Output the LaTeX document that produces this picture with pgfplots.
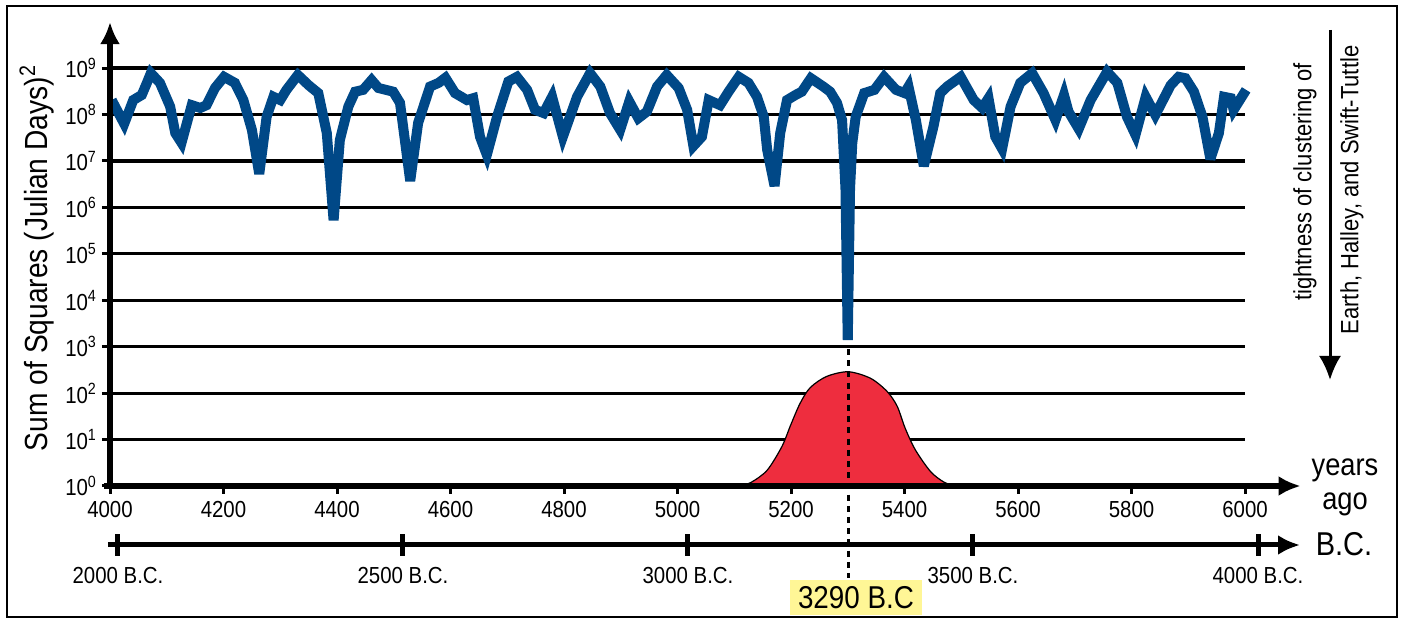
\documentclass[border=0pt]{standalone}
\usepackage{fontspec}
\setmainfont{Liberation Sans}[FakeStretch=0.88]
\usepackage{pgfplots}
\pgfplotsset{compat=1.18}
\usepackage{pgfplotstable}
\usetikzlibrary{arrows.meta}
\definecolor{curveblue}{RGB}{0,72,135}
\definecolor{bellred}{RGB}{238,45,62}
\definecolor{hiyellow}{RGB}{255,246,150}

% log10 of the sum of squares (Julian days^2) against years ago
\pgfplotstableread{
yr lg
4003 8.31
4025 7.80
4041 8.31
4056 8.42
4065 8.68
4072 8.89
4088 8.68
4106 8.17
4115 7.60
4126 7.39
4144 8.20
4159 8.14
4170 8.20
4185 8.57
4201 8.81
4220 8.68
4235 8.31
4250 7.67
4263 6.72
4276 7.95
4288 8.38
4300 8.31
4311 8.53
4331 8.85
4350 8.63
4367 8.46
4382 7.60
4394 5.72
4405 7.45
4420 8.17
4432 8.49
4446 8.53
4461 8.74
4473 8.57
4499 8.49
4511 8.25
4529 6.57
4543 7.82
4564 8.60
4579 8.68
4591 8.79
4608 8.46
4629 8.31
4640 8.35
4652 7.52
4664 7.13
4682 7.95
4702 8.71
4717 8.81
4735 8.53
4749 8.10
4764 8.03
4779 8.38
4798 7.52
4823 8.38
4846 8.89
4864 8.60
4881 8.03
4899 7.67
4915 8.28
4931 7.92
4946 8.06
4964 8.60
4981 8.85
5002 8.57
5017 8.10
5028 7.32
5043 7.52
5055 8.31
5075 8.20
5090 8.49
5108 8.81
5125 8.68
5140 8.38
5152 7.95
5158 7.24
5171 6.46
5181 7.60
5193 8.31
5208 8.42
5219 8.49
5235 8.78
5257 8.60
5269 8.49
5281 8.25
5290 7.88
5296 6.40
5300 3.14
5304 6.40
5308 7.39
5314 7.95
5329 8.46
5347 8.53
5364 8.81
5385 8.53
5400 8.46
5407 8.60
5420 7.88
5434 6.89
5451 7.74
5463 8.46
5475 8.60
5499 8.81
5522 8.31
5537 8.14
5548 8.35
5560 7.52
5572 7.26
5587 8.17
5604 8.68
5625 8.89
5645 8.46
5666 7.88
5681 8.42
5689 8.06
5707 7.69
5728 8.31
5757 8.92
5775 8.68
5792 7.95
5807 7.56
5825 8.38
5842 7.99
5869 8.63
5883 8.81
5895 8.78
5910 8.49
5925 7.95
5939 7.04
5954 7.60
5963 8.38
5975 8.35
5980 8.10
6002 8.53
}\clustering

% probability bump centred on 3290 B.C.
\pgfplotstableread{
yr lg
5110 0.00
5130 0.08
5158 0.34
5184 0.85
5199 1.30
5216 1.78
5234 2.12
5263 2.36
5301 2.46
5340 2.32
5369 2.04
5387 1.72
5401 1.25
5419 0.78
5446 0.31
5470 0.08
5490 0.00
}\bell

\begin{document}
\begin{tikzpicture}[x=1pt,y=1pt]
\useasboundingbox (-55,-67) rectangle (646.5,243);
\begin{axis}[
  at={(0,0)}, anchor=south west,
  scale only axis, width=567.5pt, height=209pt,
  xmin=4000, xmax=6000, ymin=0, ymax=9,
  axis x line*=bottom, axis y line*=left,
  axis line style={draw=none},
  xtick={4000,4200,...,6000}, ytick={0,1,...,9},
  tick align=outside, major tick length=4pt,
  every tick/.style={black, line width=1.5pt},
  ymajorgrids, grid style={black, line width=1.6pt},
  /pgf/number format/assume math mode=true,
  /pgf/number format/1000 sep={},
  xticklabel style={font=\fontsize{11.6}{13}\selectfont},
  yticklabel={10\textsuperscript{\pgfmathprintnumber{\tick}}},
  yticklabel style={font=\fontsize{11.6}{13}\selectfont, xshift=1pt},
  clip=false,
]
\addplot[fill=bellred, draw=black, line width=0.6pt, smooth] table[x=yr, y=lg] {\bell} \closedcycle;
\addplot[curveblue, line width=5pt, line join=miter, miter limit=4, no marks] table[x=yr, y=lg] {\clustering};
\draw[black, line width=1.6pt, dash pattern=on 3pt off 2.6pt] (axis cs:5301,2.95) -- (axis cs:5301,-1.98);
\draw[line width=3pt, -{Latex[length=11pt,width=10pt]}] (axis cs:3989,0) -- (axis cs:6098,0);
\draw[line width=3pt, -{Latex[length=11pt,width=10pt]}] (axis cs:4000,-0.07) -- (axis cs:4000,9.99);
\end{axis}
% B.C. scale
\begin{axis}[
  at={(-1pt,-29.5pt)}, anchor=south west,
  scale only axis, width=596pt, height=1pt,
  xmin=1982.5, xmax=4073.7, ymin=0, ymax=1,
  axis x line*=bottom, axis y line=none,
  axis line style={line width=2.5pt, -{Latex[length=11pt,width=10pt]}},
  xtick={2000,2500,...,4000},
  tick align=center, major tick length=11pt,
  every tick/.style={black, line width=2.5pt},
  /pgf/number format/assume math mode=true,
  /pgf/number format/1000 sep={},
  xticklabel={\pgfmathprintnumber{\tick} B.C.},
  xticklabel style={font=\fontsize{11.6}{13}\selectfont, yshift=-2pt},
]
\end{axis}
\draw[line width=1pt] (-51.5,-65.5) rectangle (643.5,240);
\node[rotate=90, font=\fontsize{16}{18}\selectfont] at (-36.5,114) {Sum of Squares (Julian Days)\textsuperscript{2}};
\node[anchor=base, inner sep=0pt, font=\fontsize{15.5}{18}\selectfont] at (617.5,5.4) {years};
\node[anchor=base, inner sep=0pt, font=\fontsize{15.5}{18}\selectfont] at (617.5,-11.6) {ago};
\node[font=\fontsize{16.5}{18}\selectfont] at (617,-29) {B.C.};
\node[fill=hiyellow, inner sep=0pt, minimum width=66pt, minimum height=17.5pt, font=\fontsize{15.8}{17}\selectfont] at (373,-56) {3290 B.C};
\draw[line width=1.5pt, -{Latex[length=12pt,width=11pt]}] (610,228) -- (610,53);
\node[rotate=90, font=\fontsize{12.5}{14}\selectfont] at (597.5,152) {tightness of clustering of};
\node[rotate=90, font=\fontsize{12.5}{14}\selectfont] at (621,148) {Earth, Halley, and Swift-Tuttle};
\end{tikzpicture}
\end{document}
